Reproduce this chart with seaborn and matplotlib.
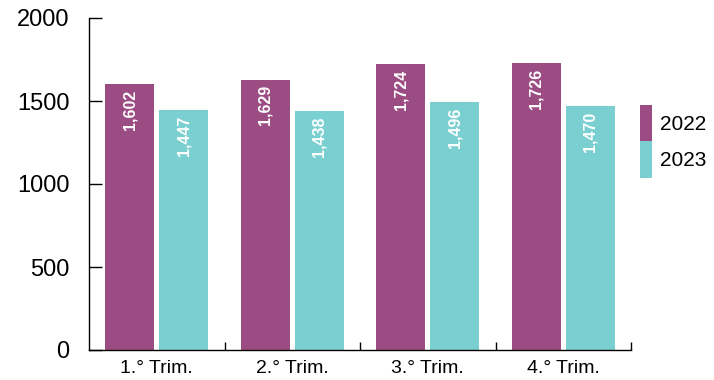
import matplotlib
matplotlib.use("Agg")
import matplotlib.pyplot as plt
import seaborn as sns
import pandas as pd
from matplotlib.patches import Patch
from matplotlib.ticker import FixedLocator, NullFormatter

# Quarterly values per year
quarters = ["1.° Trim.", "2.° Trim.", "3.° Trim.", "4.° Trim."]
years = ["2022", "2023"]
values_2022 = [1602, 1629, 1724, 1726]
values_2023 = [1447, 1438, 1496, 1470]
y_ticks = [0, 500, 1000, 1500, 2000]

colors = {"2022": "#9B4C83", "2023": "#7ACFD0"}

df = pd.DataFrame({
    "quarter": quarters * 2,
    "year": [years[0]] * 4 + [years[1]] * 4,
    "value": values_2022 + values_2023,
})

sns.set_theme(style="white")
plt.rcParams["font.family"] = ["Liberation Sans", "DejaVu Sans"]
plt.rcParams["text.color"] = "black"
plt.rcParams["xtick.color"] = "black"
plt.rcParams["ytick.color"] = "black"

fig = plt.figure(figsize=(7.14, 3.80), dpi=100)
ax = fig.add_axes([89 / 714, 30 / 380, 542 / 714, 332 / 380])

sns.barplot(data=df, x="quarter", y="value", hue="year", order=quarters,
            hue_order=years, palette=colors, width=0.8, gap=0.1,
            saturation=1, linewidth=0, edgecolor="none", legend=False, ax=ax)

ax.set_xlim(-0.5, 3.5)
ax.set_ylim(0, 2000)
ax.set_yticks(y_ticks)
ax.set_xlabel("")
ax.set_ylabel("")

# value labels written vertically just under each bar top
for container in ax.containers:
    for bar in container:
        h = bar.get_height()
        ax.annotate(f"{int(round(h)):,}",
                    xy=(bar.get_x() + bar.get_width() / 2, h),
                    xytext=(0, -4), textcoords="offset points",
                    rotation=90, ha="center", va="top",
                    color="white", fontweight="bold", fontsize=11.5)

for side in ["top", "right"]:
    ax.spines[side].set_visible(False)
for side in ["left", "bottom"]:
    ax.spines[side].set_color("black")
    ax.spines[side].set_linewidth(1.0)

ax.tick_params(axis="y", direction="in", length=9, width=1, color="black",
               labelcolor="black", labelsize=17, pad=14, left=True)
ax.tick_params(axis="x", which="major", length=0, labelsize=14,
               labelcolor="black", pad=7)
ax.xaxis.set_minor_locator(FixedLocator([0.5, 1.5, 2.5, 3.5]))
ax.xaxis.set_minor_formatter(NullFormatter())
ax.tick_params(axis="x", which="minor", direction="in", length=6, width=1,
               color="black", bottom=True)

handles = [Patch(facecolor=colors[y], edgecolor="none", label=y) for y in years]
fig.legend(handles=handles, loc="upper left", bbox_to_anchor=(640 / 714, 1 - 105 / 380),
           frameon=False, fontsize=15, handlelength=0.58, handleheight=2.3,
           labelspacing=0, handletextpad=0.4, borderpad=0, borderaxespad=0)

fig.savefig("out.png", dpi=100)
